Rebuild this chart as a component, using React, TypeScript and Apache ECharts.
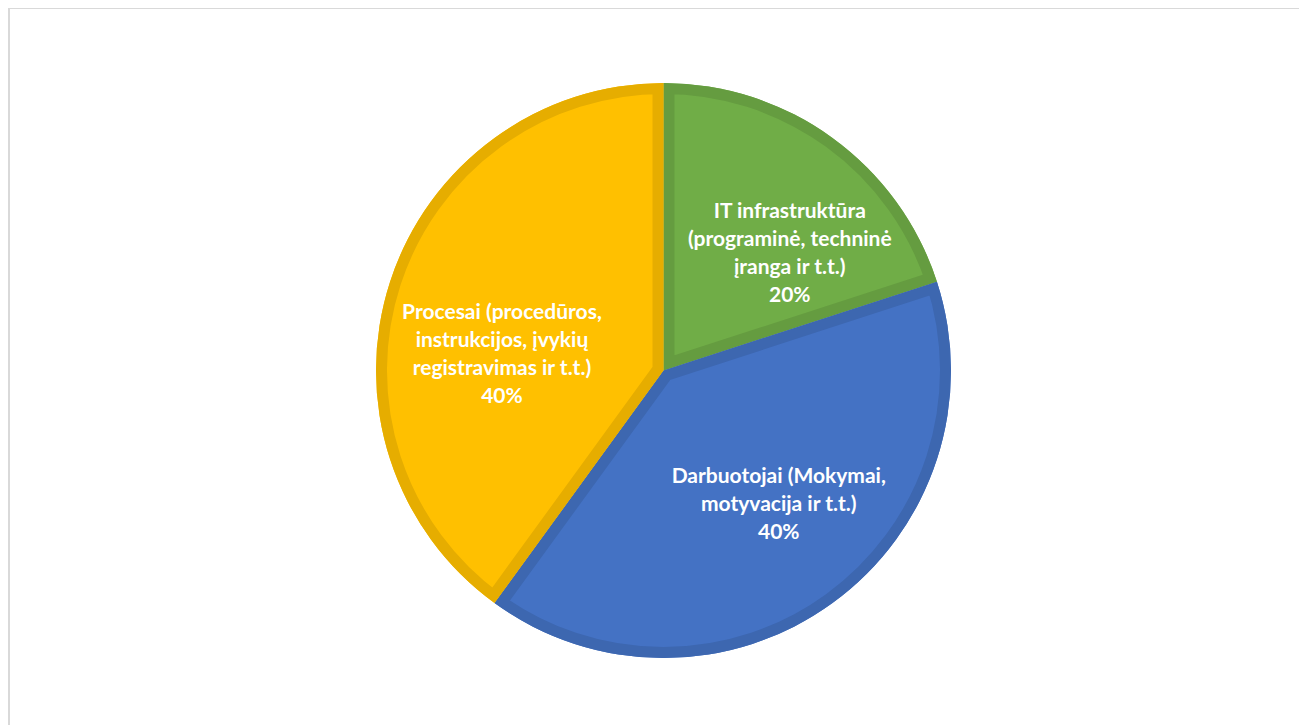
import React, { useEffect, useRef } from "react";
import * as echarts from "echarts";

const categories = [
  "IT infrastruktūra\n(programinė, techninė\nįranga ir t.t.)",
  "Darbuotojai (Mokymai,\nmotyvacija ir t.t.)",
  "Procesai (procedūros,\ninstrukcijos, įvykių\nregistravimas ir t.t.)",
];
const values = [20, 40, 40];
const fillColors = ["#70ad47", "#4472c4", "#ffc000"];
const edgeColors = ["#659c40", "#3d67b0", "#e6ad00"];
const labelOffsets: number[][] = [
  [40, 0],
  [29, 13],
  [-22, 27],
];

const CX = 655.5;
const CY = 362.5;
const R = 287.5;
const BAND = 11;

export default function App() {
  const ref = useRef<HTMLDivElement>(null);
  useEffect(() => {
    if (!ref.current) return;
    document.documentElement.style.overflow = "hidden";
    document.body.style.overflow = "hidden";
    const chart = echarts.init(ref.current, undefined, { renderer: "svg" });
    const total = values.reduce((a, b) => a + b, 0);
    chart.setOption({
      animation: false,
      graphic: [
        {
          type: "rect",
          silent: true,
          z: -10,
          shape: { x: 1, y: 0, width: 4000, height: 4000 },
          style: { fill: "none", stroke: "#d9d9d9", lineWidth: 2 },
        },
      ],
      series: [
        {
          type: "pie",
          center: [CX, CY],
          radius: [0, R],
          startAngle: 90,
          clockwise: true,
          avoidLabelOverlap: false,
          silent: true,
          emphasis: { disabled: true },
          labelLine: { show: false },
          label: {
            show: true,
            position: "inside",
            color: "#ffffff",
            fontFamily: "Lato",
            fontWeight: "bold",
            fontSize: 21,
            lineHeight: 28,
            align: "center",
            formatter: (p: any) =>
              `${p.name}\n${Math.round((p.value / total) * 100)}%`,
          },
          data: categories.map((name, i) => ({
            name,
            value: values[i],
            itemStyle: { color: fillColors[i], borderWidth: 0 },
            label: { offset: labelOffsets[i] },
          })),
        },
        {
          type: "custom",
          coordinateSystem: "none",
          silent: true,
          z: 3,
          data: values,
          renderItem: (params: any, api: any) => {
            const i = params.dataIndex;
            let start = -Math.PI / 2;
            for (let k = 0; k < i; k++) start += (values[k] / total) * Math.PI * 2;
            const end = start + (api.value(0) / total) * Math.PI * 2;
            const shape = {
              cx: CX,
              cy: CY,
              r0: 0,
              r: R,
              startAngle: start,
              endAngle: end,
              clockwise: true,
            };
            return {
              type: "sector",
              shape,
              silent: true,
              style: {
                fill: "none",
                stroke: edgeColors[i],
                lineWidth: BAND * 2,
                lineJoin: "miter",
              },
              clipPath: { type: "sector", shape },
            };
          },
        },
      ],
    });
    return () => chart.dispose();
  }, []);
  return <div ref={ref} style={{ width: 1320, height: 740 }} />;
}
